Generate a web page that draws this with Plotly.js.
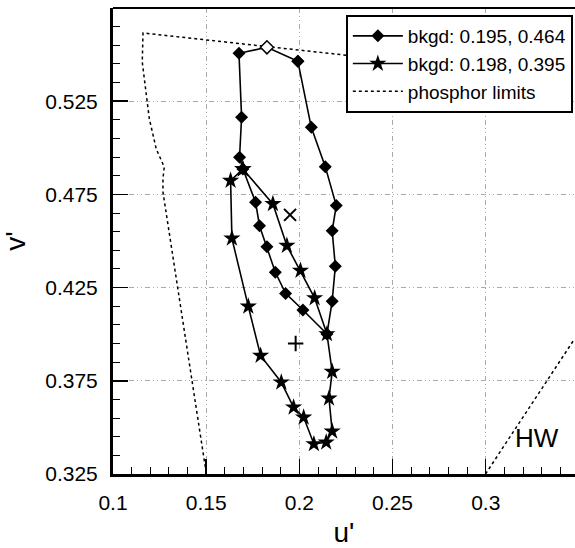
<!DOCTYPE html>
<html>
<head>
<meta charset="utf-8">
<script src="https://cdn.plot.ly/plotly-3.0.1.min.js"></script>
<style>html,body{margin:0;padding:0;background:#fff;overflow:hidden;}</style>
</head>
<body>
<div id="chart" style="width:575px;height:548px;"></div>
<script>
// Series A: bkgd 0.195, 0.464 (diamonds)
const diamondU = [0.1992, 0.2064, 0.2139, 0.2198, 0.2176, 0.2193, 0.2176, 0.2148, 0.2019, 0.1926, 0.1871, 0.1826, 0.1786, 0.1765, 0.1697, 0.1679, 0.1690, 0.1676, 0.1826, 0.1992];
const diamondV = [0.5464, 0.5110, 0.4899, 0.4690, 0.4555, 0.4364, 0.4177, 0.4001, 0.4130, 0.4219, 0.4332, 0.4469, 0.4582, 0.4708, 0.4886, 0.4949, 0.5164, 0.5507, 0.5539, 0.5464];
// open (first) diamond
const openU = [0.1826];
const openV = [0.5539];
// Series B: bkgd 0.198, 0.395 (stars)
const starU = [0.1697, 0.1858, 0.1933, 0.2006, 0.2082, 0.2148, 0.2176, 0.2159, 0.2176, 0.2144, 0.2078, 0.2023, 0.1969, 0.1903, 0.1792, 0.1726, 0.1638, 0.1631, 0.1697];
const starV = [0.4886, 0.4699, 0.4475, 0.4341, 0.4194, 0.4001, 0.3799, 0.3656, 0.3479, 0.3420, 0.3411, 0.3554, 0.3608, 0.3742, 0.3885, 0.4149, 0.4514, 0.4824, 0.4886];
// Backgrounds
const bkgdU = [0.195, 0.198];
const bkgdV = [0.464, 0.395];
// Phosphor limits (two visible pieces, separated by a gap)
const phosU = [0.350, 0.1161, 0.1157, 0.1195, 0.1232, 0.1275, 0.1268, 0.1268, 0.1501, null, 0.2999, 0.3476];
const phosV = [0.536, 0.5616, 0.5460, 0.5155, 0.4994, 0.4897, 0.4833, 0.4763, 0.325, null, 0.325, 0.3974];
// Axis ticks
const xTickVals = [0.1, 0.15, 0.2, 0.25, 0.3];
const xTickText = ['0.1', '0.15', '0.2', '0.25', '0.3'];
const yTickVals = [0.325, 0.375, 0.425, 0.475, 0.525];
const yTickText = ['0.325', '0.375', '0.425', '0.475', '0.525'];
const legendNames = ['bkgd: 0.195, 0.464', 'bkgd: 0.198, 0.395', 'phosphor limits'];
const hwLabel = {u: 0.3275, v: 0.3443, text: 'HW'};

const FONT = 'Arial, "Liberation Sans", sans-serif';

const traces = [
  {x: phosU, y: phosV, mode: 'lines', name: legendNames[2], connectgaps: false,
   line: {color: '#000', width: 1.5, dash: 'dot'}, legendrank: 3},
  {x: diamondU, y: diamondV, mode: 'lines+markers', name: legendNames[0],
   line: {color: '#000', width: 1.6},
   marker: {symbol: 'diamond', size: 10, color: '#000'}, legendrank: 1},
  {x: openU, y: openV, mode: 'markers', showlegend: false,
   marker: {symbol: 'diamond', size: 10, color: '#fff', line: {color: '#000', width: 1.5}}},
  {x: starU, y: starV, mode: 'lines+markers', name: legendNames[1],
   line: {color: '#000', width: 1.6},
   marker: {symbol: 'star', size: 13, color: '#000'}, legendrank: 2},
  {x: [bkgdU[0]], y: [bkgdV[0]], mode: 'markers', showlegend: false,
   marker: {symbol: 'x-thin-open', size: 12, color: '#000', line: {color: '#000', width: 2}}},
  {x: [bkgdU[1]], y: [bkgdV[1]], mode: 'markers', showlegend: false,
   marker: {symbol: 'cross-thin-open', size: 11, color: '#000', line: {color: '#000', width: 2}}}
];

const axisCommon = {
  showline: true, linecolor: '#000', linewidth: 3, mirror: false,
  ticks: 'inside', ticklen: 15, tickwidth: 1.5, tickcolor: '#000',
  showgrid: true, gridcolor: '#aaaaaa', gridwidth: 1, griddash: '5px,3px,1px,3px,1px,3px',
  zeroline: false, tickmode: 'array',
  tickfont: {family: FONT, size: 21, color: '#000'},
  ticklabelstandoff: 8, automargin: false
};

const layout = {
  width: 575, height: 548,
  margin: {l: 113, r: 0, t: 8, b: 74, autoexpand: false},
  paper_bgcolor: '#fff', plot_bgcolor: '#fff',
  font: {family: FONT, color: '#000'},
  showlegend: true,
  legend: {
    x: 0.504, y: 0.985, xanchor: 'left', yanchor: 'top',
    bgcolor: '#fff', bordercolor: '#000', borderwidth: 2,
    font: {family: FONT, size: 19, color: '#000'},
    itemwidth: 50, tracegroupgap: 0, traceorder: 'normal',
    entrywidth: 252, entrywidthmode: 'pixels'
  },
  xaxis: Object.assign({}, axisCommon, {
    range: [0.1, 0.3479], tickvals: xTickVals, ticktext: xTickText,
    minor: {tickmode: 'linear', tick0: 0.1, dtick: 0.01, ticks: 'inside', ticklen: 7, tickwidth: 1, tickcolor: '#000', showgrid: false},
    title: {text: "u'", font: {family: FONT, size: 28, color: '#000'}, standoff: 10}
  }),
  yaxis: Object.assign({}, axisCommon, {
    range: [0.325, 0.575], tickvals: yTickVals, ticktext: yTickText,
    minor: {tickmode: 'linear', tick0: 0.325, dtick: 0.01, ticks: 'inside', ticklen: 7, tickwidth: 1, tickcolor: '#000', showgrid: false},
    title: {text: "v'", font: {family: FONT, size: 28, color: '#000'}, standoff: 14}
  }),
  shapes: [
    {type: 'line', xref: 'paper', yref: 'paper', x0: 0, x1: 1, y0: 1, y1: 1,
     line: {color: '#000', width: 2}}
  ],
  annotations: [
    {x: hwLabel.u, y: hwLabel.v, xref: 'x', yref: 'y', text: hwLabel.text, showarrow: false,
     font: {family: FONT, size: 26, color: '#000'}}
  ]
};

Plotly.newPlot('chart', traces, layout, {displayModeBar: false, staticPlot: true});
</script>
</body>
</html>
